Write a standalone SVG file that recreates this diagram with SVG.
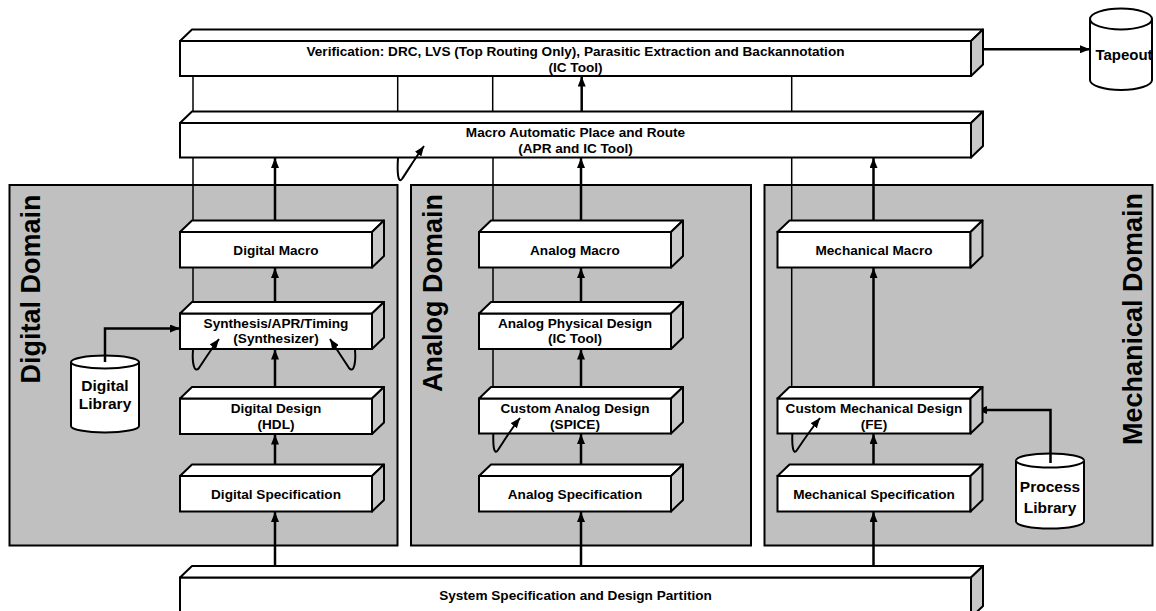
<svg xmlns="http://www.w3.org/2000/svg" width="1156" height="611" viewBox="0 0 1156 611">
<style>
.panel{fill:#c0c0c0;stroke:#000;stroke-width:2}
.front{fill:#fff;stroke:#000;stroke-width:2}
.top{fill:#fff;stroke:#000;stroke-width:2;stroke-linejoin:round}
.side{fill:#c8c8c8;stroke:#000;stroke-width:2;stroke-linejoin:round}
.cyl{fill:#fff;stroke:#000;stroke-width:2}
.thin{fill:none;stroke:#000;stroke-width:1.5}
.thick{fill:none;stroke:#000;stroke-width:2.5;marker-end:url(#ah)}
.curl{fill:none;stroke:#000;stroke-width:2;marker-end:url(#ah)}
text{font-family:"Liberation Sans",Arial,sans-serif;font-weight:bold;fill:#000;text-anchor:middle}
.t{font-size:13.6px}
.c{font-size:15.5px}
.dom{font-size:27px}
</style>
<defs>
<marker id="ah" markerUnits="userSpaceOnUse" markerWidth="11" markerHeight="8" refX="10" refY="4" orient="auto">
<path d="M0,0 L10,4 L0,8 z" fill="#000"/>
</marker>
</defs>
<rect width="1156" height="611" fill="#fff"/>

<g id="digital-domain">
<rect class="panel" x="9.5" y="185" width="388" height="360.5"/>
<text class="dom" transform="translate(40,289) rotate(-90)">Digital Domain</text>
</g>
<g id="analog-domain">
<rect class="panel" x="411" y="185" width="340" height="360.5"/>
<text class="dom" transform="translate(442,293) rotate(-90)">Analog Domain</text>
</g>
<g id="mechanical-domain">
<rect class="panel" x="764.5" y="185" width="388" height="360.5"/>
<text class="dom" transform="translate(1142,319) rotate(-90)">Mechanical Domain</text>
</g>

<g id="digital-library">
<path class="cyl" d="M71,362 L71,426 A34,6.5 0 0 0 139,426 L139,362 A34,6.5 0 0 0 71,362 Z"/>
<path class="cyl" d="M71,362 A34,6.5 0 0 0 139,362" fill="none"/>
<text class="c" x="105" y="390.5">Digital</text>
<text class="c" x="105" y="408.5">Library</text>
</g>
<g id="process-library">
<path class="cyl" d="M1016,460.5 L1016,521.5 A34,7 0 0 0 1084,521.5 L1084,460.5 A34,7 0 0 0 1016,460.5 Z"/>
<path class="cyl" d="M1016,460.5 A34,7 0 0 0 1084,460.5" fill="none"/>
<text class="c" x="1050" y="492">Process</text>
<text class="c" x="1050" y="513">Library</text>
</g>
<g id="tapeout">
<path class="cyl" d="M1090,19 L1090,80 A31,10 0 0 0 1152,80 L1152,19 A31,10.5 0 0 0 1090,19 Z"/>
<path class="cyl" d="M1090,19 A31,10.5 0 0 0 1152,19" fill="none"/>
<text class="c" x="1124" y="60" style="font-size:15px">Tapeout</text>
</g>

<g id="connectors">
<line class="thin" x1="193" y1="76" x2="193" y2="111.5"/>
<line class="thin" x1="397.7" y1="76" x2="397.7" y2="111.5"/>
<line class="thin" x1="492.7" y1="76" x2="492.7" y2="111.5"/>
<line class="thin" x1="791.7" y1="76" x2="791.7" y2="111.5"/>
<line class="thin" x1="193" y1="157.5" x2="193" y2="302"/>
<line class="thin" x1="493" y1="157.5" x2="493" y2="387"/>
<line class="thin" x1="791.7" y1="157.5" x2="791.7" y2="387"/>

<line class="thick" x1="581.7" y1="117" x2="581.7" y2="76.5"/>
<line class="thick" x1="975" y1="49.3" x2="1090" y2="49.3"/>

<line class="thick" x1="275" y1="227" x2="275" y2="158"/>
<line class="thick" x1="275" y1="307" x2="275" y2="268"/>
<line class="thick" x1="275" y1="392" x2="275" y2="349.5"/>
<line class="thick" x1="275" y1="470" x2="275" y2="434.5"/>
<line class="thick" x1="275" y1="572" x2="275" y2="512"/>

<line class="thick" x1="581" y1="227" x2="581" y2="158"/>
<line class="thick" x1="581" y1="307" x2="581" y2="268"/>
<line class="thick" x1="581" y1="392" x2="581" y2="349.5"/>
<line class="thick" x1="581" y1="470" x2="581" y2="434"/>
<line class="thick" x1="581" y1="572" x2="581" y2="512"/>

<line class="thick" x1="873.5" y1="227" x2="873.5" y2="158"/>
<line class="thick" x1="873.5" y1="392" x2="873.5" y2="268"/>
<line class="thick" x1="873.5" y1="470" x2="873.5" y2="434"/>
<line class="thick" x1="873.5" y1="572" x2="873.5" y2="512"/>

<polyline class="thick" points="105,362 105,328.5 180,328.5"/>
<polyline class="thick" points="1050.5,463 1050.5,410 977,410"/>
</g>

<g id="verification">
<rect class="front" x="180" y="41" width="791" height="35"/>
<polygon class="top" points="180,41 192,29.5 983,29.5 971,41"/>
<polygon class="side" points="971,41 983,29.5 983,64.5 971,76"/>
<text class="t" x="575.5" y="55.5">Verification: DRC, LVS (Top Routing Only), Parasitic Extraction and Backannotation</text>
<text class="t" x="575.5" y="71.5">(IC Tool)</text>
</g>
<g id="apr">
<rect class="front" x="180" y="123" width="791" height="34.5"/>
<polygon class="top" points="180,123 192,111.5 983,111.5 971,123"/>
<polygon class="side" points="971,123 983,111.5 983,146 971,157.5"/>
<text class="t" x="575.5" y="136.5">Macro Automatic Place and Route</text>
<text class="t" x="575.5" y="153">(APR and IC Tool)</text>
</g>

<g id="digital-macro">
<rect class="front" x="180" y="232" width="192" height="35.5"/>
<polygon class="top" points="180,232 192,220.5 384,220.5 372,232"/>
<polygon class="side" points="372,232 384,220.5 384,256 372,267.5"/>
<text class="t" x="276" y="254.5">Digital Macro</text>
</g>
<g id="synthesis">
<rect class="front" x="180" y="313.5" width="192" height="35.5"/>
<polygon class="top" points="180,313.5 192,302 384,302 372,313.5"/>
<polygon class="side" points="372,313.5 384,302 384,337.5 372,349"/>
<text class="t" x="276" y="327.8">Synthesis/APR/Timing</text>
<text class="t" x="276" y="342.8">(Synthesizer)</text>
</g>
<g id="digital-design">
<rect class="front" x="180" y="398.5" width="192" height="35.5"/>
<polygon class="top" points="180,398.5 192,387 384,387 372,398.5"/>
<polygon class="side" points="372,398.5 384,387 384,422.5 372,434"/>
<text class="t" x="276" y="412.8">Digital Design</text>
<text class="t" x="276" y="429">(HDL)</text>
</g>
<g id="digital-spec">
<rect class="front" x="180" y="476" width="192" height="35.5"/>
<polygon class="top" points="180,476 192,464.5 384,464.5 372,476"/>
<polygon class="side" points="372,476 384,464.5 384,500 372,511.5"/>
<text class="t" x="276" y="498.5">Digital Specification</text>
</g>

<g id="analog-macro">
<rect class="front" x="479" y="232" width="192" height="35.5"/>
<polygon class="top" points="479,232 491,220.5 683,220.5 671,232"/>
<polygon class="side" points="671,232 683,220.5 683,256 671,267.5"/>
<text class="t" x="575" y="254.5">Analog Macro</text>
</g>
<g id="analog-physical">
<rect class="front" x="479" y="313.5" width="192" height="35.5"/>
<polygon class="top" points="479,313.5 491,302 683,302 671,313.5"/>
<polygon class="side" points="671,313.5 683,302 683,337.5 671,349"/>
<text class="t" x="575" y="327.8">Analog Physical Design</text>
<text class="t" x="575" y="342.8">(IC Tool)</text>
</g>
<g id="custom-analog">
<rect class="front" x="479" y="398.5" width="192" height="35"/>
<polygon class="top" points="479,398.5 491,387 683,387 671,398.5"/>
<polygon class="side" points="671,398.5 683,387 683,422 671,433.5"/>
<text class="t" x="575" y="412.8">Custom Analog Design</text>
<text class="t" x="575" y="429">(SPICE)</text>
</g>
<g id="analog-spec">
<rect class="front" x="479" y="476" width="192" height="35.5"/>
<polygon class="top" points="479,476 491,464.5 683,464.5 671,476"/>
<polygon class="side" points="671,476 683,464.5 683,500 671,511.5"/>
<text class="t" x="575" y="498.5">Analog Specification</text>
</g>

<g id="mechanical-macro">
<rect class="front" x="777.5" y="232" width="193" height="35.5"/>
<polygon class="top" points="777.5,232 789.5,220.5 982.5,220.5 970.5,232"/>
<polygon class="side" points="970.5,232 982.5,220.5 982.5,256 970.5,267.5"/>
<text class="t" x="874" y="254.5">Mechanical Macro</text>
</g>
<g id="custom-mechanical">
<rect class="front" x="777.5" y="398.5" width="193" height="35"/>
<polygon class="top" points="777.5,398.5 789.5,387 982.5,387 970.5,398.5"/>
<polygon class="side" points="970.5,398.5 982.5,387 982.5,422 970.5,433.5"/>
<text class="t" x="874" y="412.8">Custom Mechanical Design</text>
<text class="t" x="874" y="429">(FE)</text>
</g>
<g id="mechanical-spec">
<rect class="front" x="777.5" y="476" width="193" height="35.5"/>
<polygon class="top" points="777.5,476 789.5,464.5 982.5,464.5 970.5,476"/>
<polygon class="side" points="970.5,476 982.5,464.5 982.5,500 970.5,511.5"/>
<text class="t" x="874" y="498.5">Mechanical Specification</text>
</g>

<g id="system-spec">
<rect class="front" x="180" y="577.5" width="791" height="40"/>
<polygon class="top" points="180,577.5 192,566 983,566 971,577.5"/>
<polygon class="side" points="971,577.5 983,566 983,606 971,617.5"/>
<text class="t" x="575.5" y="599.8">System Specification and Design Partition</text>
</g>

<g id="iteration-arrows">
<path class="curl" d="M398,158 C397,172 398,184 402,179 C408,170 416,157 424,146"/>
<path class="curl" d="M193,350 C192,362 194,374 199,368 C205,359 212,348 219,339"/>
<path class="curl" d="M355,350 C356,362 354,374 349,368 C343,359 336,348 330,339"/>
<path class="curl" d="M493.3,434 C493,446 494,456 498,450 C504,441 512,428 520,418"/>
<path class="curl" d="M792.3,434 C792,446 793,456 797,450 C803,441 812,428 820,418"/>
</g>
</svg>
